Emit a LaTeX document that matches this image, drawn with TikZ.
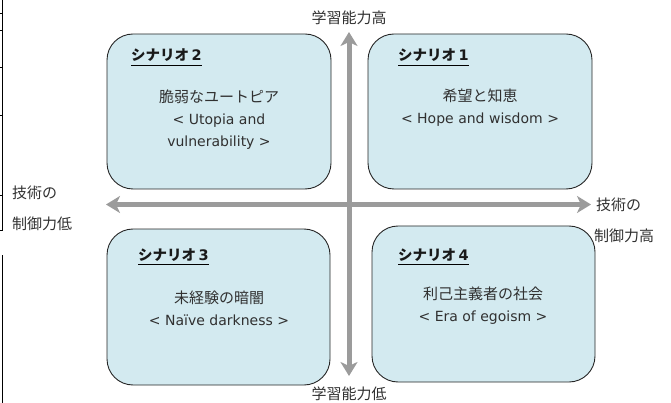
\documentclass[tikz,border=0pt]{standalone}
\usepackage{fontspec}
\setmainfont{DejaVu Sans}
\newfontfamily\jp{Noto Sans CJK JP}
\usetikzlibrary{arrows.meta}
\begin{document}
\definecolor{boxfill}{HTML}{D3EAF0}
\definecolor{axisgray}{HTML}{9B9B9B}
\definecolor{txt}{HTML}{303030}
\tikzset{
  qbox/.style={draw=black!85, line width=0.9pt, fill=boxfill, rounded corners=26pt, inner sep=0pt},
  axis/.style={draw=axisgray, line width=5pt, {Stealth[length=14pt,width=17pt,inset=4pt]}-{Stealth[length=14pt,width=17pt,inset=4pt]}},
  ttl/.style={anchor=base west, inner xsep=0pt, inner ysep=3.5pt, text=black!90, font=\fontsize{14.5}{16}\selectfont\bfseries},
  body/.style={align=center, text=txt, font=\fontsize{14}{22}\selectfont},
  lbl/.style={text=txt, inner sep=0pt, font=\jp\fontsize{15}{16}\selectfont},
  edge/.style={draw=black, line width=0.8pt}
}
\begin{tikzpicture}[x=1pt,y=-1pt]
\useasboundingbox (0,0) rectangle (671,403);
% left table remnants
\draw[edge] (2.5,0) -- (2.5,230);
\foreach \yy in {13,30,67,115,195,230} \draw[edge] (0,\yy) -- (2.5,\yy);
\draw[edge] (2.5,255) -- (2.5,403);
% boxes
\node[qbox, minimum width=224pt, minimum height=155pt] (b2) at (219,111.5) {};
\node[qbox, minimum width=224pt, minimum height=155pt] (b1) at (480,111.5) {};
\node[qbox, minimum width=223pt, minimum height=156pt] (b3) at (218.5,307) {};
\node[qbox, minimum width=223pt, minimum height=156pt] (b4) at (483.5,304) {};
% axes
\coordinate (vt) at (349,32);
\coordinate (vb) at (349,376);
\coordinate (hl) at (106,204.5);
\coordinate (hr) at (591,204.5);
\draw[axis] (vb) -- (vt);
\draw[axis] (hl) -- (hr);
% titles
\node[ttl] (t2) at (131,61) {{\jp シナリオ}\,2};
\draw[line width=1.2pt] (t2.south west) -- (t2.south east);
\node[ttl] (t1) at (398,61) {{\jp シナリオ}\,1};
\draw[line width=1.2pt] (t1.south west) -- (t1.south east);
\node[ttl] (t3) at (138,260) {{\jp シナリオ}\,3};
\draw[line width=1.2pt] (t3.south west) -- (t3.south east);
\node[ttl] (t4) at (398,260) {{\jp シナリオ}\,4};
\draw[line width=1.2pt] (t4.south west) -- (t4.south east);
% contents
\node[body] (c2) at (219,120) {{\jp\fontsize{15}{22}\selectfont 脆弱なユートピア}\\ < Utopia and\\ vulnerability >};
\node[body] (c1) at (480,108) {{\jp\fontsize{15}{22}\selectfont 希望と知恵}\\ < Hope and wisdom >};
\node[body] (c3) at (219,308) {{\jp\fontsize{15}{22}\selectfont 未経験の暗闇}\\ < Naïve darkness >};
\node[body] (c4) at (483,306) {{\jp\fontsize{15}{22}\selectfont 利己主義者の社会}\\ < Era of egoism >};
% axis labels
\node[lbl] (lt) at (349,18) {学習能力高};
\node[lbl] (lb) at (349,394) {学習能力低};
\node[lbl, anchor=west] (ll1) at (12,193) {技術の};
\node[lbl, anchor=west] (ll2) at (12,224) {制御力低};
\node[lbl, anchor=west] (lr1) at (596,205) {技術の};
\node[lbl, anchor=west] (lr2) at (594,236) {制御力高};
\end{tikzpicture}
\end{document}
